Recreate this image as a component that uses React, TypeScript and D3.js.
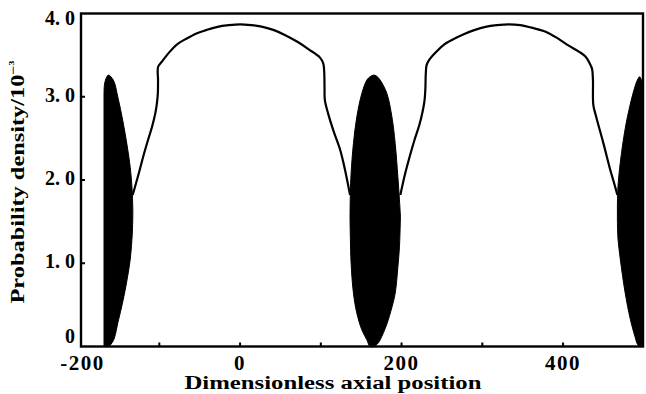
import * as d3 from 'd3';
import React, { useRef, useEffect } from 'react';

const W = 646;
const H = 394;
const plot = { left: 81, right: 643, top: 13.5, bottom: 346.5 };

// axis ticks
const xTickValues = [-200, 0, 200, 400];
const xMinorTicks = [-100, 0, 100, 200, 300, 400];
const yTickValues = [0, 1, 2, 3, 4];
const yTickLabels = ['0', '1. 0', '2. 0', '3. 0', '4. 0'];
const yMinorTicks = [1, 2, 3];

// smooth curve between lobe 1 and lobe 2
const dome1X = [-133, -126, -120, -114, -109, -105, -103, -101.8, -101.6, -101.5, -97, -88, -78, -66, -54, -42, -28, -14, 0, 14, 28, 42, 56, 71, 85, 99, 103, 104.2, 104.6, 105, 109, 116, 124, 130, 136.2];
const dome1Y = [1.82, 2.06, 2.28, 2.48, 2.64, 2.8, 2.92, 3.05, 3.2, 3.36, 3.42, 3.53, 3.63, 3.7, 3.76, 3.8, 3.84, 3.86, 3.87, 3.86, 3.84, 3.8, 3.74, 3.66, 3.57, 3.47, 3.4, 3.3, 3.1, 2.96, 2.8, 2.58, 2.36, 2.12, 1.82];

// smooth curve between lobe 2 and lobe 3
const dome2X = [198.5, 204, 210, 216, 222, 226, 228.5, 229.5, 230, 231, 234, 243, 253, 264, 277, 290, 304, 318, 333, 347, 361, 376, 392, 406, 420, 428, 433, 436, 437, 437.5, 441, 450, 458.5, 463, 467.3];
const dome2Y = [1.82, 2.06, 2.28, 2.48, 2.66, 2.82, 2.96, 3.1, 3.28, 3.38, 3.44, 3.54, 3.63, 3.69, 3.75, 3.8, 3.84, 3.86, 3.87, 3.86, 3.83, 3.79, 3.71, 3.62, 3.54, 3.48, 3.4, 3.33, 3.2, 2.9, 2.76, 2.44, 2.12, 1.97, 1.82];

// oscillating regions (black): lower and upper envelope
const lobe1X = [-168.5, -168, -166, -163, -157, -151, -145, -140, -136, -133.5, -132.8];
const lobe1Lo = [0.02, 0, 0, 0, 0.07, 0.3, 0.55, 0.8, 1.05, 1.35, 1.6];
const lobe1Hi = [3.05, 3.14, 3.22, 3.26, 3.2, 2.98, 2.7, 2.42, 2.15, 1.85, 1.62];

const lobe2X = [136.2, 136.6, 137.5, 140.4, 144.6, 150.8, 157, 161, 166, 170, 173.5, 181.8, 188, 192.1, 195.4, 197.4, 198.3, 198.5];
const lobe2Lo = [1.5, 1.3, 1.0, 0.64, 0.4, 0.2, 0.08, 0, 0, 0.03, 0.08, 0.27, 0.47, 0.64, 0.95, 1.2, 1.44, 1.5];
const lobe2Hi = [1.6, 1.85, 2.08, 2.44, 2.76, 3.04, 3.2, 3.24, 3.26, 3.24, 3.2, 3.04, 2.76, 2.44, 2.04, 1.76, 1.62, 1.6];

const lobe3X = [467.3, 468, 471, 477, 483, 489, 492, 495, 497.5, 498];
const lobe3Lo = [1.5, 1.3, 1.04, 0.64, 0.34, 0.12, 0.03, 0, 0.02, 0.05];
const lobe3Hi = [1.7, 1.92, 2.22, 2.62, 2.9, 3.12, 3.2, 3.24, 3.18, 3.1];

const FONT = '"Liberation Serif", "Times New Roman", serif';

const App = () => {
  const ref = useRef<SVGSVGElement>(null);

  useEffect(() => {
    if (!ref.current) return;
    const svg = d3.select(ref.current);
    svg.selectAll('*').remove();

    const x = d3.scaleLinear().domain([-197, 499]).range([plot.left, plot.right]);
    const y = d3.scaleLinear().domain([0, 4]).range([plot.bottom, plot.top]);

    const area = d3
      .area<[number, number, number]>()
      .x((d) => x(d[0]))
      .y0((d) => y(d[1]))
      .y1((d) => y(d[2]))
      .curve(d3.curveCatmullRom.alpha(0.5));

    const lobes = [
      [lobe1X, lobe1Lo, lobe1Hi],
      [lobe2X, lobe2Lo, lobe2Hi],
      [lobe3X, lobe3Lo, lobe3Hi],
    ];
    lobes.forEach(([xs, lo, hi]) => {
      const pts = xs.map((v, i) => [v, lo[i], hi[i]] as [number, number, number]);
      svg.append('path').attr('d', area(pts)).attr('fill', '#000').attr('stroke', '#000').attr('stroke-width', 1);
    });

    const line = d3
      .line<[number, number]>()
      .x((d) => x(d[0]))
      .y((d) => y(d[1]))
      .curve(d3.curveCatmullRom.alpha(0.5));

    [
      [dome1X, dome1Y],
      [dome2X, dome2Y],
    ].forEach(([xs, ys]) => {
      const pts = xs.map((v, i) => [v, ys[i]] as [number, number]);
      svg
        .append('path')
        .attr('d', line(pts))
        .attr('fill', 'none')
        .attr('stroke', '#000')
        .attr('stroke-width', 2.2)
        .attr('stroke-linejoin', 'round');
    });

    // frame
    svg
      .append('rect')
      .attr('x', plot.left)
      .attr('y', plot.top)
      .attr('width', plot.right - plot.left)
      .attr('height', plot.bottom - plot.top)
      .attr('fill', 'none')
      .attr('stroke', '#000')
      .attr('stroke-width', 2.4);

    // inward ticks
    svg
      .selectAll('.xt')
      .data(xMinorTicks)
      .enter()
      .append('line')
      .attr('x1', (d) => x(d))
      .attr('x2', (d) => x(d))
      .attr('y1', plot.bottom)
      .attr('y2', plot.bottom - 4)
      .attr('stroke', '#000')
      .attr('stroke-width', 2);

    svg
      .selectAll('.yt')
      .data(yMinorTicks)
      .enter()
      .append('line')
      .attr('x1', plot.left)
      .attr('x2', plot.left + 4)
      .attr('y1', (d) => y(d))
      .attr('y2', (d) => y(d))
      .attr('stroke', '#000')
      .attr('stroke-width', 2);

    // tick labels
    svg
      .selectAll('.xl')
      .data(xTickValues)
      .enter()
      .append('text')
      .attr('x', (d) => x(d) + (d === -200 ? 4 : 0))
      .attr('y', 370)
      .attr('text-anchor', 'middle')
      .attr('font-family', FONT)
      .attr('font-weight', 'bold')
      .attr('font-size', 21)
      .attr('letter-spacing', 1.5)
      .text((d) => String(d));

    svg
      .selectAll('.yl')
      .data(yTickValues)
      .enter()
      .append('text')
      .attr('x', 75)
      .attr('y', (d) => y(d) + (d === 4 ? 4 : d === 0 ? -11 : -2))
      .attr('dy', '0.35em')
      .attr('text-anchor', 'end')
      .attr('font-family', FONT)
      .attr('font-weight', 'bold')
      .attr('font-size', 20)
      .text((d, i) => yTickLabels[i]);

    // axis titles
    svg
      .append('text')
      .attr('x', 333)
      .attr('y', 389)
      .attr('text-anchor', 'middle')
      .attr('font-family', FONT)
      .attr('font-weight', 'bold')
      .attr('font-size', 18)
      .attr('textLength', 297)
      .attr('lengthAdjust', 'spacingAndGlyphs')
      .text('Dimensionless axial position');

    const yt = svg
      .append('text')
      .attr('transform', 'translate(24,182) rotate(-90)')
      .attr('text-anchor', 'middle')
      .attr('font-family', FONT)
      .attr('font-weight', 'bold')
      .attr('font-size', 18)
      .attr('textLength', 243)
      .attr('lengthAdjust', 'spacingAndGlyphs');
    yt.append('tspan').text('Probability density/10');
    yt.append('tspan').attr('dy', -7).attr('font-size', 12).text('\u2212\u00b3');
  }, []);

  return (
    <svg
      ref={ref}
      width={W}
      height={H}
      style={{ position: 'absolute', left: 0, top: 0, background: '#fff' }}
    />
  );
};

export default App;
